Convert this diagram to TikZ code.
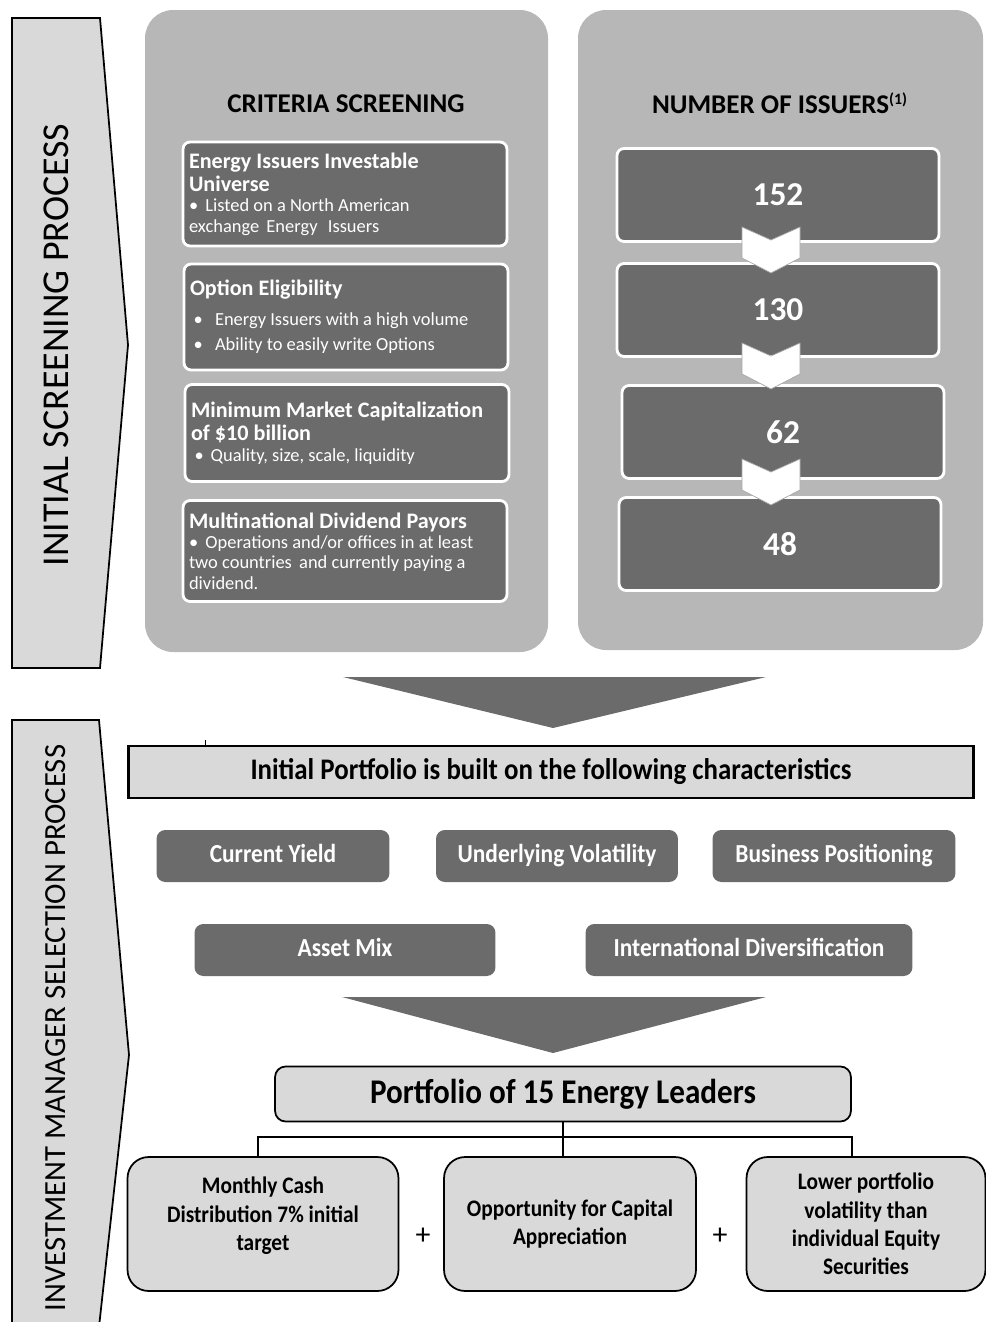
\documentclass[tikz,border=0pt]{standalone}
\usepackage{fontspec}
\setmainfont{Carlito}
\newfontfamily\condfont[FakeStretch=0.9]{Carlito}
\usetikzlibrary{positioning}

\definecolor{panelgray}{HTML}{B7B7B7}
\definecolor{boxgray}{HTML}{6B6B6B}
\definecolor{palegray}{HTML}{D9D9D9}

\newcommand{\titlefont}{\bfseries\fontsize{12.6}{13.2}\selectfont}
\newcommand{\bulletfont}{\fontsize{10.5}{11.6}\selectfont}

\tikzset{
  critbox/.style={rectangle, rounded corners=4pt, draw=white, line width=1.6pt, fill=boxgray,
    text=white, align=flush left, text width=6.24cm, inner xsep=0.12cm, minimum height=#1},
  numbox/.style={rectangle, rounded corners=4pt, draw=white, line width=1.6pt, fill=boxgray,
    text=white, font=\bfseries\fontsize{19}{21}\selectfont, minimum width=6.44cm, minimum height=1.86cm},
  charbox/.style={rectangle, rounded corners=5pt, fill=boxgray, text=white, text height=10.5pt, text depth=3.5pt,
    font=\condfont\bfseries\fontsize{14.8}{16}\selectfont, minimum height=1.04cm, minimum width=#1},
  leafbox/.style={rectangle, rounded corners=12pt, draw=black, line width=1pt, fill=palegray,
    align=center, font=\condfont\bfseries\fontsize{13.5}{16.2}\selectfont, minimum height=2.68cm, minimum width=#1},
  headtext/.style={font=\bfseries\fontsize{15.4}{17}\selectfont},
  sidetext/.style={rotate=90, font=\fontsize{#1}{22}\selectfont},
  chevron/.style={fill=white, draw=gray!70, line width=0.4pt}
}

\begin{document}
\begin{tikzpicture}[x=0.02cm, y=-0.02cm]
\useasboundingbox (0,0) rectangle (986,1322);
\clip (0,0) rectangle (986,1322);

% side arrows
\draw[fill=palegray, line width=1pt] (12,18) -- (100,18) -- (128,345) -- (100,668) -- (12,668) -- cycle;
\node[sidetext=21.6] (initlabel) at (56,345) {INITIAL SCREENING PROCESS};
\draw[fill=palegray, line width=1pt] (12,720) -- (99,720) -- (129,1055) -- (97,1345) -- (12,1345) -- cycle;
\node[sidetext=17.5] (invlabel) at (56,1028) {INVESTMENT MANAGER SELECTION PROCESS};

% panels
\fill[panelgray, rounded corners=16pt] (145,10) rectangle (548,652);
\fill[panelgray, rounded corners=16pt] (578,10) rectangle (983,650);
\node[headtext] (crithead) at (346,104) {CRITERIA SCREENING};
\node[headtext] (numhead) at (780,103) {NUMBER OF ISSUERS\textsuperscript{\fontsize{9}{9}\selectfont(1)}};

% criteria
\node[critbox=2.08cm] (universe) at (345,194) {{\titlefont Energy Issuers Investable\\Universe\par}
  {\bulletfont • \,Listed on a North American\\exchange \,Energy \,\,Issuers\par}};
\node[critbox=2.12cm] (option) at (346,317) {{\titlefont Option Eligibility\par}\vspace{3pt}
  {\bulletfont\fontsize{10.5}{14.2}\selectfont\hspace*{2pt}•\hspace{7pt}Energy Issuers with a high volume\\
  \hspace*{2pt}•\hspace{7pt}Ability to easily write Options\par}};
\node[critbox=1.94cm] (mincap) at (347,433) {{\titlefont Minimum Market Capitalization\\of \$10 billion\par}
  {\bulletfont\hspace*{2pt}•\hspace{4pt}Quality, size, scale, liquidity\par}};
\node[critbox=2.02cm] (multi) at (345,551) {{\titlefont Multinational Dividend Payors\par}
  {\bulletfont • \,Operations and/or offices in at least\\two countries \,and currently paying a\\dividend.\par}};

% number of issuers
\node[numbox] (n152) at (778,195) {152};
\node[numbox] (n130) at (778,310) {130};
\node[numbox] (n62) at (783,432) {62};
\node[numbox] (n48) at (780,544) {48};
\foreach \y in {227,343,459}
  \draw[chevron] (742,\y) -- (771,\y+13) -- (800,\y) -- (800,\y+31) -- (771,\y+46) -- (742,\y+31) -- cycle;

% big arrows
\fill[boxgray] (343,677) -- (766,677) -- (553,728) -- cycle;
\fill[boxgray] (342,997) -- (766,997) -- (553,1053) -- cycle;

% characteristics
\draw (205,740) -- (205,747);
\node[rectangle, draw=black, line width=1.3pt, fill=palegray, minimum width=16.9cm, minimum height=1.04cm,
  font=\condfont\bfseries\fontsize{17}{19}\selectfont] (initial) at (551,772) {Initial Portfolio is built on the following characteristics};
\node[charbox=4.66cm] (yield) at (273,856) {Current Yield};
\node[charbox=4.84cm] (volat) at (557,856) {Underlying Volatility};
\node[charbox=4.86cm] (business) at (834,856) {Business Positioning};
\node[charbox=6.02cm] (assetmix) at (345,950) {Asset Mix};
\node[charbox=6.54cm] (intl) at (749,950) {International Diversification};

% portfolio
\node[rectangle, rounded corners=6pt, draw=black, line width=1pt, fill=palegray, minimum width=11.52cm,
  minimum height=1.1cm, font=\condfont\bfseries\fontsize{19.7}{21}\selectfont] (port) at (563,1094) {Portfolio of 15 Energy Leaders};
\node[leafbox=5.42cm] (cash) at (263,1224) {Monthly Cash\\Distribution 7\% initial\\target\\[-4.8pt]};
\node[leafbox=5.04cm] (capital) at (570,1224) {Opportunity for Capital\\Appreciation};
\node[leafbox=4.78cm] (lowvol) at (866,1224) {Lower portfolio\\volatility than\\individual Equity\\Securities};
\node[font=\fontsize{17}{17}\selectfont] (plusA) at (423,1236) {+};
\node[font=\fontsize{17}{17}\selectfont] (plusB) at (720,1236) {+};

\coordinate (split) at (port.south |- 0,1137);
\draw[line width=1pt] (port.south) -- (split);
\draw[line width=1pt] ([xshift=-0.1cm]cash.north) |- (split) -| (lowvol.north -| port.east);
\draw[line width=1pt] (split) -- (split |- capital.north);

\end{tikzpicture}
\end{document}
